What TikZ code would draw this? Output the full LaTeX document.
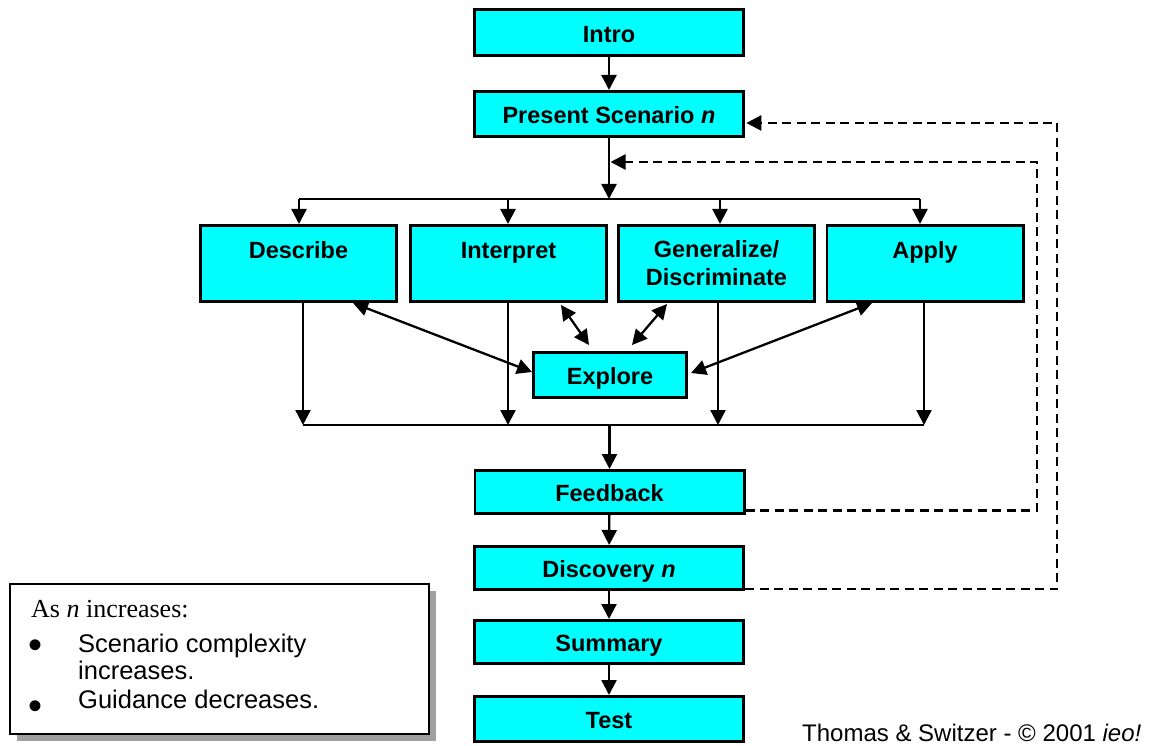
\documentclass[tikz,border=0pt]{standalone}
\usepackage{fontspec}
\setmainfont{Liberation Sans}
\newfontfamily\legendserif{Liberation Serif}
\usetikzlibrary{arrows.meta,calc,shadows}

\definecolor{boxcyan}{RGB}{0,255,255}
\definecolor{shadowgray}{RGB}{160,160,160}

\tikzset{
  stagebox/.style={draw=black, line width=2.6pt, fill=boxcyan, inner sep=0pt,
    minimum width=269.4pt, minimum height=45.4pt,
    font=\fontsize{23.5}{28}\selectfont\bfseries, text height=19.5pt, text depth=0pt},
  skillbox/.style={draw=black, line width=2.6pt, fill=boxcyan, inner sep=0pt,
    minimum width=196.4pt, minimum height=76.4pt},
  skilltext/.style={anchor=base, inner sep=0pt, font=\fontsize{23.5}{28}\selectfont\bfseries},
  flow/.style={line width=2.3pt, -{Triangle[length=15pt,width=15pt]}},
  plain/.style={line width=2.3pt},
  both/.style={line width=2.3pt, {Triangle[length=15pt,width=15pt]}-{Triangle[length=15pt,width=15pt]}},
  loopback/.style={line width=2.3pt, dash pattern=on 9pt off 5.5pt, -{Triangle[length=15pt,width=15pt]}},
  legendbox/.style={draw=black, line width=2pt, fill=white, inner sep=0pt,
    minimum width=419pt, minimum height=150pt,
    drop shadow={shadow xshift=7pt, shadow yshift=-7pt, fill=shadowgray, opacity=1}},
  legendline/.style={anchor=base west, inner sep=0pt, font=\fontsize{25.5}{26}\selectfont},
  bulletmark/.style={anchor=center, inner sep=0pt, font=\fontsize{40}{40}\selectfont},
}

\begin{document}
\begin{tikzpicture}[x=1pt, y=-1pt]
\useasboundingbox (0,0) rectangle (1152,746);

% main column
\node[stagebox, minimum height=46.4pt] (intro)     at (609,32.5) {Intro};
\node[stagebox] (present)   at (609,114)  {Present Scenario \textit{n}};
\node[stagebox, minimum height=43.4pt] (feedback)  at (609.5,492) {Feedback};
\node[stagebox, minimum height=43.4pt] (discovery) at (609,568)  {Discovery \textit{n}};
\node[stagebox, minimum height=43.4pt] (summary)   at (609,642)  {Summary};
\node[stagebox] (test)      at (609,719)  {Test};

% the four activities
\node[skillbox] (describe)  at (298.5,263.5) {};
\node[skillbox] (interpret) at (508.5,263.5) {};
\node[skillbox] (general)   at (716.5,263.5) {};
\node[skillbox] (apply)     at (925,263.5)   {};
\node[skilltext] at ($(describe.center)+(0,-4.5)$)  {Describe};
\node[skilltext] at ($(interpret.center)+(0,-4.5)$) {Interpret};
\node[skilltext] at ($(general.center)+(0,-5.5)$)   {Generalize/};
\node[skilltext] at ($(general.center)+(0,22.5)$)   {Discriminate};
\node[skilltext] at ($(apply.center)+(0,-4.5)$)     {Apply};

\node[stagebox, minimum width=153.4pt] (explore) at (610,375) {Explore};

% legend
\node[legendbox] (legend) at (219.5,659) {};
\node[anchor=base west, inner sep=0pt, font=\legendserif\fontsize{26}{26}\selectfont]
  (lg0) at (31,617) {As \textit{n} increases:};
\node[legendline] (lg1) at (78,652) {Scenario complexity};
\node[legendline] (lg2) at (78,679) {increases.};
\node[legendline] (lg3) at (78,708) {Guidance decreases.};
\node[bulletmark] (b1) at (36,649) {•};
\node[bulletmark] (b2) at (36,710) {•};

% credit line
\node[anchor=base west, inner sep=0pt, font=\fontsize{24}{24}\selectfont]
  (credit) at (802,741) {Thomas \& Switzer - © 2001 \textit{ieo!}};

% helper coordinates for the two buses
\coordinate (busY) at (0,199);
\coordinate (lowY) at (0,425);
\coordinate (uD) at ($(describe.north)+(0.5,0)$);
\coordinate (uI) at ($(interpret.north)+(-0.5,0)$);
\coordinate (uG) at ($(general.north)+(3.5,0)$);
\coordinate (uA) at ($(apply.north)+(-5,0)$);
\coordinate (dD) at ($(describe.south)+(4.5,0)$);
\coordinate (dI) at ($(interpret.south)+(-0.5,0)$);
\coordinate (dG) at ($(general.south)+(1.5,0)$);
\coordinate (dA) at ($(apply.south)+(-1,0)$);

% top of the flow
\draw[flow] (intro) -- (present);
\draw[flow] (present.south) -- (present.south |- busY);
\draw[plain] (uD |- busY) -- (uA |- busY);
\draw[flow] (uD |- busY) -- (uD);
\draw[flow] (uI |- busY) -- (uI);
\draw[flow] (uG |- busY) -- (uG);
\draw[flow] (uA |- busY) -- (uA);

% activities down to the lower bus
\draw[flow] (dD) -- (dD |- lowY);
\draw[flow] (dI) -- (dI |- lowY);
\draw[flow] (dG) -- (dG |- lowY);
\draw[flow] (dA) -- (dA |- lowY);
\draw[plain] (dD |- lowY) -- (dA |- lowY);
\draw[flow] (feedback.north |- lowY) -- (feedback.north);

% exploring from each activity
\draw[both] ($(describe.south)+(54.5,0)$) -- ($(explore.west)+(0,-3)$);
\draw[both] ($(interpret.south)+(52.5,2)$) -- ($(explore.north)+(-21,-6)$);
\draw[both] ($(general.south)+(-49.5,1)$) -- ($(explore.north)+(22,-6)$);
\draw[both] ($(apply.south)+(-53,0)$) -- ($(explore.east)+(3,-2)$);

% bottom of the flow
\draw[flow] (feedback) -- (discovery);
\draw[flow] (discovery) -- (summary);
\draw[flow] (summary) -- (test);

% loops back to the scenario
\coordinate (inX) at (1037,0);
\coordinate (inY) at (0,162);
\coordinate (fbOut) at ($(feedback.south east)+(0,-4.5)$);
\coordinate (inTip) at ($(present.south |- inY)+(1.5,0)$);
\draw[loopback] (fbOut) -- (fbOut -| inX) -- (inX |- inY) -- (inTip);

\coordinate (outX) at (1057,0);
\coordinate (dvOut) at ($(discovery.south east)+(0,-2)$);
\coordinate (psIn) at ($(present.south east)+(1.3,-15)$);
\draw[loopback] (dvOut) -- (dvOut -| outX) -- (outX |- psIn) -- (psIn);
\end{tikzpicture}
\end{document}
